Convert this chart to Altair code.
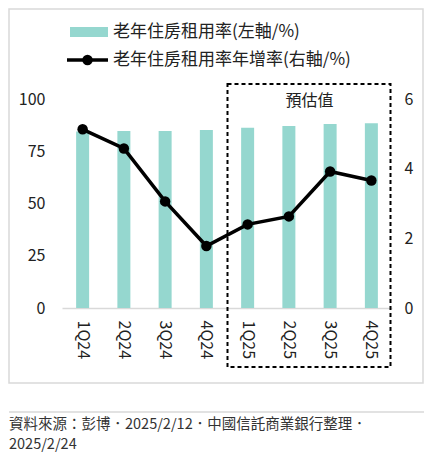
import altair as alt
import pandas as pd

# values
quarters = ["1Q24", "2Q24", "3Q24", "4Q24", "1Q25", "2Q25", "3Q25", "4Q25"]
rent_rate = [84.5, 84.7, 84.7, 85.2, 86.3, 87.1, 88.0, 88.4]      # left axis, %
rent_growth = [5.13, 4.58, 3.06, 1.78, 2.40, 2.63, 3.92, 3.66]    # right axis, %
left_ticks = [0, 25, 50, 75, 100]
right_ticks = [0, 2, 4, 6]

bar_label = "老年住房租用率(左軸/%)"
line_label = "老年住房租用率年增率(右軸/%)"
forecast_label = "預估值"
source_line1 = "資料來源：彭博．2025/2/12．中國信託商業銀行整理．"
source_line2 = "2025/2/24"

FONT = "Noto Sans CJK TC"
TEAL = "#95d7cf"
W, H = 330, 209

df = pd.DataFrame({"quarter": quarters, "rate": rent_rate, "growth": rent_growth})
one = pd.DataFrame({"a": [0]})

x = alt.X(
    "quarter:N", sort=quarters,
    scale=alt.Scale(paddingInner=0.685, paddingOuter=0.3425),
    axis=alt.Axis(title=None, labelAngle=90, labelAlign="left", labelBaseline="middle",
                  ticks=False, labelPadding=12, labelFontSize=16,
                  domainColor="#d9d9d9", domainWidth=1.5),
)

bars = alt.Chart(df).mark_bar(color=TEAL).encode(
    x=x,
    y=alt.Y("rate:Q", scale=alt.Scale(domain=[0, 100]),
            axis=alt.Axis(title=None, values=left_ticks, grid=False, ticks=False,
                          domain=False, labelPadding=17, labelFontSize=16)),
)

line = alt.Chart(df).mark_line(
    color="black", strokeWidth=3.5,
    point=alt.OverlayMarkDef(filled=True, size=110, color="black", opacity=1),
).encode(
    x=x,
    y=alt.Y("growth:Q", scale=alt.Scale(domain=[0, 6]),
            axis=alt.Axis(title=None, orient="right", values=right_ticks, grid=False,
                          ticks=False, domain=False, labelPadding=12, labelFontSize=16)),
)

# dashed forecast box
box = alt.Chart(one).mark_rect(fillOpacity=0, stroke="black", strokeWidth=2,
                               strokeDash=[4, 3]).encode(
    x=alt.value(W / 2 + 0.5), x2=alt.value(W - 1.5),
    y=alt.value(-15), y2=alt.value(268),
)
box_text = alt.Chart(one).mark_text(text=forecast_label, fontSize=16, font=FONT,
                                    color="#222").encode(
    x=alt.value(W * 0.75), y=alt.value(2),
)

# manual legend
leg_swatch = alt.Chart(one).mark_rect(color=TEAL).encode(
    x=alt.value(8), x2=alt.value(46), y=alt.value(-72), y2=alt.value(-62),
)
leg_rule = alt.Chart(one).mark_rule(color="black", strokeWidth=3.5).encode(
    x=alt.value(5), x2=alt.value(46), y=alt.value(-39),
)
leg_dot = alt.Chart(one).mark_point(filled=True, size=110, color="black", opacity=1).encode(
    x=alt.value(25.5), y=alt.value(-39),
)
leg_text1 = alt.Chart(one).mark_text(text=bar_label, align="left", baseline="middle",
                                     fontSize=17, font=FONT, color="#222").encode(
    x=alt.value(51), y=alt.value(-67),
)
leg_text2 = alt.Chart(one).mark_text(text=line_label, align="left", baseline="middle",
                                     fontSize=17, font=FONT, color="#222").encode(
    x=alt.value(51), y=alt.value(-39),
)

# outer frame, separator and source note
frame = alt.Chart(one).mark_rect(fillOpacity=0, stroke="#d9d9d9", strokeWidth=1.5).encode(
    x=alt.value(-53), x2=alt.value(361), y=alt.value(-90), y2=alt.value(284),
)
sep = alt.Chart(one).mark_rule(color="#d9d9d9", strokeWidth=1.5).encode(
    x=alt.value(-53), x2=alt.value(362), y=alt.value(313),
)
source1 = alt.Chart(one).mark_text(text=source_line1, align="left", baseline="alphabetic",
                                   fontSize=14.5, font=FONT, color="#333").encode(
    x=alt.value(-53), y=alt.value(330),
)
source2 = alt.Chart(one).mark_text(text=source_line2, align="left", baseline="alphabetic",
                                   fontSize=14.5, font=FONT, color="#333").encode(
    x=alt.value(-53), y=alt.value(350),
)

chart = alt.layer(
    frame, bars, line, box, box_text,
    leg_swatch, leg_rule, leg_dot, leg_text1, leg_text2, sep, source1, source2,
).resolve_scale(y="independent").properties(
    width=W, height=H,
    autosize=alt.AutoSizeParams(type="none"),
    padding={"left": 54, "top": 91, "right": 32, "bottom": 146},
).configure_view(stroke=None).configure_axis(
    labelFont=FONT, labelColor="#222",
)

chart.save("out.html", embed_options={"renderer": "svg", "actions": False})
